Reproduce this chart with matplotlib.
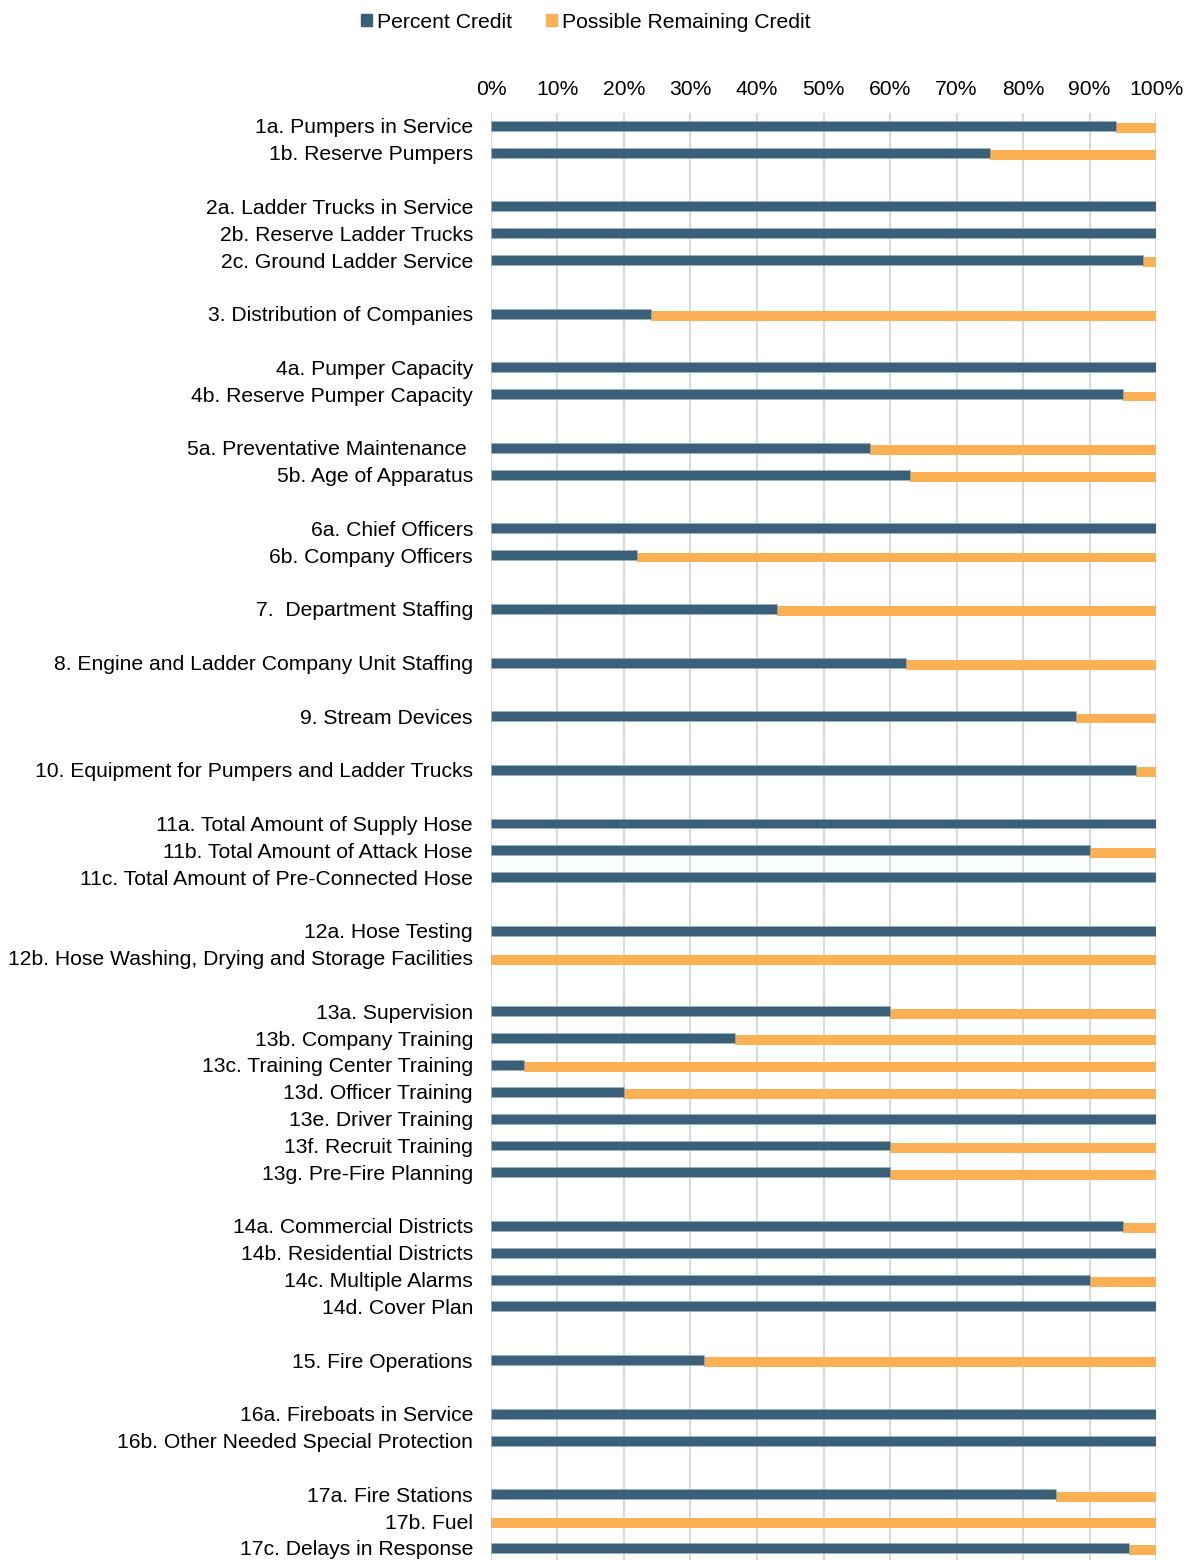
import matplotlib.pyplot as plt
from matplotlib.patches import Patch
import numpy as np

plt.rcParams['font.family'] = ['Liberation Sans', 'DejaVu Sans']

# groups of rows; a blank row sits between groups
groups = [
    ["1a. Pumpers in Service", "1b. Reserve Pumpers"],
    ["2a. Ladder Trucks in Service", "2b. Reserve Ladder Trucks", "2c. Ground Ladder Service"],
    ["3. Distribution of Companies"],
    ["4a. Pumper Capacity", "4b. Reserve Pumper Capacity"],
    ["5a. Preventative Maintenance ", "5b. Age of Apparatus"],
    ["6a. Chief Officers", "6b. Company Officers"],
    ["7.  Department Staffing"],
    ["8. Engine and Ladder Company Unit Staffing"],
    ["9. Stream Devices"],
    ["10. Equipment for Pumpers and Ladder Trucks"],
    ["11a. Total Amount of Supply Hose", "11b. Total Amount of Attack Hose",
     "11c. Total Amount of Pre-Connected Hose"],
    ["12a. Hose Testing", "12b. Hose Washing, Drying and Storage Facilities"],
    ["13a. Supervision", "13b. Company Training", "13c. Training Center Training",
     "13d. Officer Training", "13e. Driver Training", "13f. Recruit Training",
     "13g. Pre-Fire Planning"],
    ["14a. Commercial Districts", "14b. Residential Districts", "14c. Multiple Alarms",
     "14d. Cover Plan"],
    ["15. Fire Operations"],
    ["16a. Fireboats in Service", "16b. Other Needed Special Protection"],
    ["17a. Fire Stations", "17b. Fuel", "17c. Delays in Response"],
]

percent_credit = [
    94, 75,
    100, 100, 98,
    24,
    100, 95,
    57, 63,
    100, 22,
    43,
    62.4,
    88,
    97,
    100, 90, 100,
    100, 0,
    60, 36.7, 5, 20, 100, 60, 60,
    95, 100, 90, 100,
    32,
    100, 100,
    85, 0, 96,
]

labels = []
ypos = []
row = 0
for g in groups:
    for name in g:
        labels.append(name)
        ypos.append(row)
        row += 1
    row += 1

credit = np.array(percent_credit) / 100.0
remaining = 1.0 - credit
ypos = np.array(ypos)
last = ypos[-1]

blue = '#3B6079'
orange = '#FBB153'
fs = 15.2

fig = plt.figure(figsize=(11.96, 15.6), dpi=100)
ax = fig.add_axes([0.4105, 0.0, 0.5561, 0.9276])

h = 0.37
ax.barh(ypos + 0.085, remaining, left=credit, height=h, color=orange, zorder=2)
ax.barh(ypos, credit, height=h, color=blue, edgecolor='#9FB2C0', linewidth=0.4, zorder=3)

ax.set_xlim(0, 1)
ax.set_ylim(last + 0.45, -0.485)
ticks = np.arange(0, 1.01, 0.1)
ax.set_xticks(ticks)
ax.set_xticklabels([f"{int(round(v * 100))}%" for v in ticks], fontsize=fs)
ax.xaxis.tick_top()
ax.tick_params(axis='x', length=0, pad=10)
ax.set_yticks(ypos)
ax.set_yticklabels(labels, fontsize=fs)
ax.tick_params(axis='y', length=0, pad=13)
ax.grid(axis='x', color='#D9D9D9', linewidth=1.5, zorder=0)
ax.set_axisbelow(True)
for s in ax.spines.values():
    s.set_visible(False)

handles = [Patch(color=blue, label='Percent Credit'),
           Patch(color=orange, label='Possible Remaining Credit')]
fig.legend(handles=handles, loc='upper center', bbox_to_anchor=(0.49, 1.004), ncol=2,
           frameon=False, fontsize=fs, handlelength=0.5, handleheight=0.5,
           handletextpad=0.25, columnspacing=1.6)

fig.savefig('out.png', dpi=100)
